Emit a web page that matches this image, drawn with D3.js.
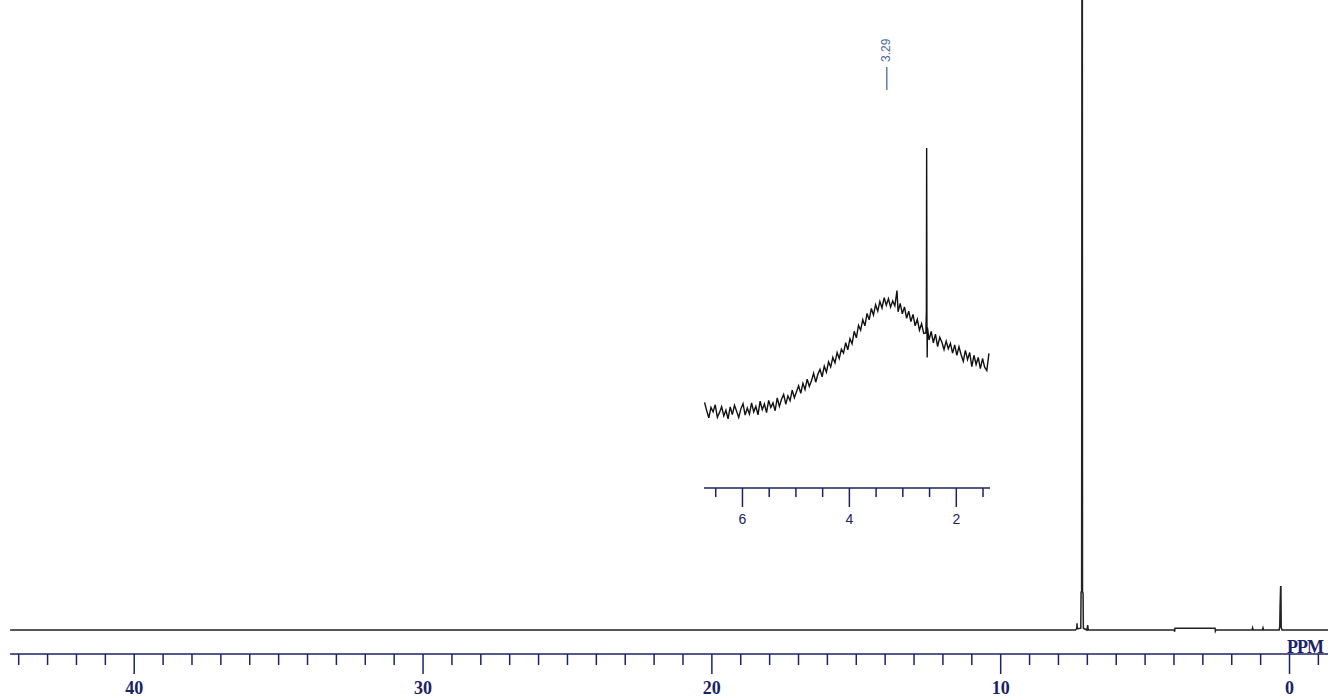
<!DOCTYPE html>
<html>
<head>
<meta charset="utf-8">
<script src="https://cdn.jsdelivr.net/npm/d3@7"></script>
<style>
  html, body { margin: 0; padding: 0; background: #fff; }
  svg { display: block; }
</style>
</head>
<body>
<svg id="chart" width="1328" height="697"></svg>
<script>
// ---- spectrum data: [chemical shift (ppm), relative intensity] ----
// full 1H trace (intensity 0..100, solvent line runs off scale)
const mainSpectrum = [
  [44.28, 0], [7.40, 0], [7.35, 0.2], [7.34, 1.1], [7.33, 0.2], [7.21, 0.3],
  [7.20, 6.3], [7.18, 6.5], [7.17, 106], [7.155, 106], [7.15, 6.4], [7.13, 6.1],
  [7.12, 0.3], [7.00, 0], [6.97, 0.8], [6.95, 0], [3.97, 0], [3.96, -0.3],
  [3.95, 0.3], [2.56, 0.3], [2.55, -0.2], [2.53, 0], [1.28, 0], [1.26, 0.35],
  [1.24, 0], [0.92, 0], [0.90, 0.35], [0.88, 0], [0.34, 0], [0.32, 0.6],
  [0.31, 3.8], [0.29, 7.2], [0.28, 7.2], [0.27, 0.4], [0.24, 0], [-1.40, 0]
];

// expanded region 6.7 – 1.4 ppm (vertically scaled)
const insetSpectrum = [
  [6.70, 6.5], [6.66, 3.5], [6.62, 0.8], [6.58, 4.6], [6.54, 3.0], [6.50, 5.6],
  [6.46, 1.0], [6.42, 2.8], [6.38, 4.9], [6.34, 1.5], [6.30, 3.6], [6.26, 0.4],
  [6.22, 4.8], [6.18, 2.0], [6.14, 5.4], [6.10, 3.2], [6.06, 0.9], [6.02, 4.1],
  [5.98, 6.0], [5.94, 1.8], [5.90, 4.4], [5.86, 2.2], [5.82, 6.3], [5.78, 3.0],
  [5.74, 5.0], [5.70, 1.9], [5.66, 6.9], [5.62, 3.8], [5.58, 5.9], [5.54, 2.7],
  [5.50, 7.2], [5.46, 4.6], [5.42, 6.3], [5.38, 3.4], [5.34, 8.1], [5.30, 5.0],
  [5.26, 7.6], [5.22, 9.4], [5.18, 5.8], [5.14, 8.9], [5.10, 7.1], [5.06, 11.0],
  [5.02, 8.2], [4.98, 10.4], [4.94, 12.6], [4.90, 9.8], [4.86, 13.5], [4.82, 11.2],
  [4.78, 15.0], [4.74, 12.4], [4.70, 14.4], [4.66, 17.2], [4.62, 13.9], [4.58, 16.8],
  [4.54, 18.6], [4.50, 15.9], [4.46, 19.8], [4.42, 17.6], [4.38, 21.4], [4.34, 19.5],
  [4.30, 23.0], [4.26, 21.0], [4.22, 24.8], [4.18, 22.6], [4.14, 26.0], [4.10, 24.6],
  [4.06, 28.4], [4.02, 25.8], [3.98, 29.9], [3.94, 28.0], [3.90, 32.6], [3.86, 30.2],
  [3.82, 34.8], [3.78, 33.0], [3.74, 36.9], [3.70, 34.6], [3.66, 39.2], [3.62, 36.8],
  [3.58, 41.0], [3.54, 38.6], [3.50, 42.4], [3.46, 40.0], [3.42, 43.6], [3.38, 41.2],
  [3.34, 45.0], [3.30, 42.2], [3.26, 44.6], [3.22, 41.5], [3.18, 43.8], [3.14, 42.0],
  [3.10, 47.6], [3.08, 39.8], [3.04, 42.9], [3.00, 39.0], [2.96, 41.6], [2.92, 37.4],
  [2.88, 40.0], [2.84, 36.2], [2.80, 38.8], [2.76, 34.6], [2.72, 37.0], [2.68, 33.0],
  [2.64, 35.4], [2.60, 31.8], [2.56, 32.0], [2.55, 40.0], [2.545, 100], [2.54, 38.0],
  [2.535, 23.0], [2.53, 34.0], [2.50, 29.4], [2.46, 32.6], [2.42, 28.4], [2.38, 31.6],
  [2.34, 27.0], [2.30, 30.4], [2.26, 28.6], [2.22, 25.9], [2.18, 29.0], [2.14, 26.2],
  [2.10, 28.2], [2.06, 24.6], [2.02, 27.6], [1.98, 23.8], [1.94, 26.9], [1.90, 24.0],
  [1.86, 21.6], [1.82, 25.6], [1.78, 22.2], [1.74, 24.8], [1.70, 19.6], [1.66, 23.8],
  [1.62, 20.4], [1.58, 23.0], [1.54, 18.9], [1.50, 22.6], [1.46, 19.4], [1.42, 18.2],
  [1.38, 24.5]
];

// picked peaks
const peakShifts = [3.29];
const peakLabels = ["3.29"];

// axis ticks
const mainMajorTicks = [40, 30, 20, 10, 0];
const mainMinorTicks = d3.range(44, -2, -1).filter(v => v % 10 !== 0);
const insetMajorTicks = [6, 4, 2];
const insetMinorTicks = [6.5, 5.5, 5, 4.5, 3.5, 3, 2.5, 1.5];
const axisUnit = "PPM";

// ---- drawing ----
const svg = d3.select("#chart");
const NAVY = "#1c2266";

// main trace
const x = d3.scaleLinear().domain([44.63, -1.35]).range([0, 1328]);
const y = d3.scaleLinear().domain([0, 100]).range([630, 30]);

svg.append("path")
  .datum(mainSpectrum)
  .attr("fill", "none")
  .attr("stroke", "#222")
  .attr("stroke-width", 1.5)
  .attr("d", d3.line().x(d => x(d[0])).y(d => y(d[1])));

// main ppm axis
const axisY = 654;
const gMain = svg.append("g").attr("transform", `translate(0,${axisY})`);
gMain.append("line")
  .attr("x1", x(44.28)).attr("x2", 1328)
  .attr("stroke", NAVY).attr("stroke-width", 1.5);
gMain.append("g")
  .call(d3.axisBottom(x).tickValues(mainMinorTicks).tickSize(11).tickFormat(""))
  .call(g => g.select(".domain").remove());
gMain.append("g")
  .call(d3.axisBottom(x).tickValues(mainMajorTicks).tickSize(20).tickPadding(7).tickFormat(d3.format("d")))
  .call(g => g.select(".domain").remove());
gMain.selectAll(".tick line").attr("stroke", NAVY).attr("stroke-width", 1.5);
gMain.selectAll(".tick text")
  .attr("fill", NAVY)
  .style("font-family", "'Liberation Serif', 'DejaVu Serif', serif")
  .style("font-weight", "bold")
  .style("font-size", "18px");
svg.append("text")
  .attr("x", 1287).attr("y", 653)
  .attr("fill", NAVY)
  .attr("letter-spacing", "-1")
  .style("font-family", "'Liberation Serif', 'DejaVu Serif', serif")
  .style("font-weight", "bold")
  .style("font-size", "18px")
  .text(axisUnit);

// expanded region
const xi = d3.scaleLinear().domain([6.71, 1.36]).range([704, 990]);
const yi = d3.scaleLinear().domain([0, 100]).range([420, 148]);

svg.append("path")
  .datum(insetSpectrum)
  .attr("fill", "none")
  .attr("stroke", "#111")
  .attr("stroke-width", 1.4)
  .attr("d", d3.line().x(d => xi(d[0])).y(d => yi(d[1])));

const insetAxisY = 488;
const gIn = svg.append("g").attr("transform", `translate(0,${insetAxisY})`);
gIn.append("line")
  .attr("x1", 704).attr("x2", 990)
  .attr("stroke", NAVY).attr("stroke-width", 1.5);
gIn.append("g")
  .call(d3.axisBottom(xi).tickValues(insetMinorTicks).tickSize(9).tickFormat(""))
  .call(g => g.select(".domain").remove());
gIn.append("g")
  .call(d3.axisBottom(xi).tickValues(insetMajorTicks).tickSize(19).tickPadding(7).tickFormat(d3.format("d")))
  .call(g => g.select(".domain").remove());
gIn.selectAll(".tick line").attr("stroke", NAVY).attr("stroke-width", 1.5);
gIn.selectAll(".tick text")
  .attr("fill", NAVY)
  .style("font-family", "'Liberation Sans Narrow', 'Liberation Sans', sans-serif")
  .style("font-size", "14px");

// peak pick labels
const picks = svg.append("g");
peakShifts.forEach((p, i) => {
  const px = xi(p);
  picks.append("line")
    .attr("x1", px).attr("x2", px)
    .attr("y1", 67).attr("y2", 90)
    .attr("stroke", "#3f5f92").attr("stroke-width", 1.2);
  picks.append("text")
    .attr("transform", `translate(${px},62) rotate(-90)`)
    .attr("dominant-baseline", "middle")
    .attr("fill", "#4a6a9c")
    .style("font-family", "'Liberation Sans', Arial, sans-serif")
    .style("font-size", "12px")
    .text(peakLabels[i]);
});
</script>
</body>
</html>
